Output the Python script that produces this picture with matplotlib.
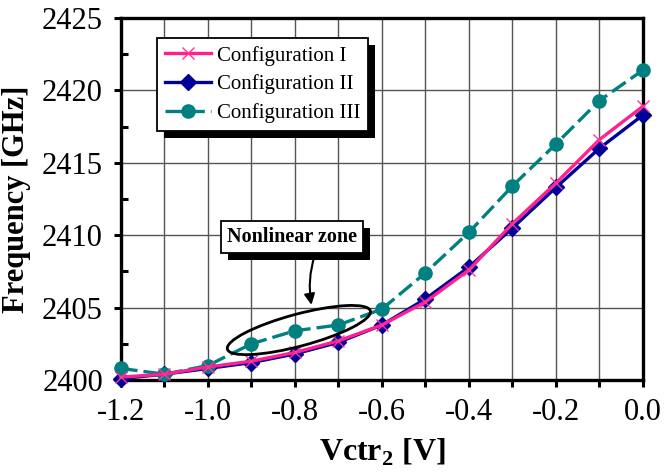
import matplotlib.pyplot as plt
from matplotlib.patches import Ellipse, Rectangle
from matplotlib.transforms import ScaledTranslation, IdentityTransform
from matplotlib.ticker import MultipleLocator

vctr = [-1.2, -1.1, -1.0, -0.9, -0.8, -0.7, -0.6, -0.5, -0.4, -0.3, -0.2, -0.1, 0.0]
freq_conf1 = [2400.2, 2400.4, 2400.9, 2401.3, 2401.9, 2402.7, 2403.8, 2405.4, 2407.6, 2410.8, 2413.6, 2416.6, 2418.9]
freq_conf2 = [2400.1, 2400.4, 2400.8, 2401.2, 2401.8, 2402.6, 2403.8, 2405.6, 2407.8, 2410.5, 2413.3, 2416.0, 2418.3]
freq_conf3 = [2400.8, 2400.4, 2401.0, 2402.5, 2403.4, 2403.8, 2404.9, 2407.4, 2410.2, 2413.4, 2416.3, 2419.3, 2421.4]
labels = ['Configuration I', 'Configuration II', 'Configuration III']

plt.rcParams['font.family'] = ['Liberation Serif', 'DejaVu Serif']
plt.rcParams['mathtext.fontset'] = 'custom'
plt.rcParams['mathtext.rm'] = 'Liberation Serif'
plt.rcParams['mathtext.bf'] = 'Liberation Serif:bold'

fig = plt.figure(figsize=(6.64, 4.75), dpi=100)
ax = fig.add_axes([0.1822, 0.2, 0.7861, 0.7621])

l2, = ax.plot(vctr, freq_conf2, color='#000099', lw=2.4, marker='D', ms=8.5,
              label=labels[1], zorder=3, clip_on=False)
l3, = ax.plot(vctr, freq_conf3, color='#008080', lw=2.4, ls=(0, (5, 1.8)), marker='o', ms=9.5,
              label=labels[2], zorder=3, clip_on=False)
l1, = ax.plot(vctr, freq_conf1, color='#FF1F8E', lw=2.4, marker='x', ms=8, mew=1.0,
              mec='#FF3399', label=labels[0], zorder=4, clip_on=False)

ax.set_xlim(-1.2, 0.0)
ax.set_ylim(2400, 2425)
ax.xaxis.set_minor_locator(MultipleLocator(0.1))
ax.yaxis.set_major_locator(MultipleLocator(5))
ax.yaxis.set_minor_locator(MultipleLocator(2.5))
ax.set_xticks([-1.2, -1.0, -0.8, -0.6, -0.4, -0.2, 0.0])
ax.set_xticklabels(['-1.2', '-1.0', '-0.8', '-0.6', '-0.4', '-0.2', '0.0'])

ax.grid(True, which='major', color='#555555', lw=1.0)
ax.grid(True, which='minor', axis='x', color='#555555', lw=1.0)
ax.set_axisbelow(True)

for s in ax.spines.values():
    s.set_linewidth(2.4)
ax.tick_params(which='major', direction='out', length=5, width=2.2, labelsize=22, pad=8)
ax.tick_params(axis='x', which='minor', direction='out', length=5, width=2.2)
ax.tick_params(axis='y', which='minor', direction='in', length=5, width=2.2)

ax.set_xlabel(r'Vctr$_{\mathbf{2}}$ [V]', fontsize=23, fontweight='bold', labelpad=7)
ax.set_ylabel('Frequency [GHz]', fontsize=22, fontweight='bold', labelpad=8)

leg = ax.legend(handles=[l1, l2, l3], loc='upper left', bbox_to_anchor=(0.069, 0.945),
                borderaxespad=0, fontsize=15, fancybox=False, framealpha=1,
                edgecolor='black', handlelength=2.2, handletextpad=0.3,
                labelspacing=0.42, borderpad=0.38)
leg.get_frame().set_linewidth(1.3)
leg.set_zorder(6)

# nonlinear zone marking
ell = Ellipse((0, 0), 148, 32, angle=15, fill=False, ec='black', lw=2.0,
              transform=ScaledTranslation(-0.791, 2403.45, ax.transData), zorder=5)
ax.add_patch(ell)
ann = ax.annotate('Nonlinear zone', xy=(-0.761, 2405.0), xytext=(-0.807, 2409.9),
                  fontsize=14.5, fontweight='bold', ha='center', va='center',
                  bbox=dict(boxstyle='square,pad=0.3', fc='white', ec='black', lw=1.3),
                  arrowprops=dict(arrowstyle='-|>', color='black', lw=1.5, mutation_scale=16,
                                  connectionstyle='arc3,rad=0.15', relpos=(0.7, 0.0)),
                  zorder=6)

# black drop shadows behind the boxes
fig.canvas.draw()
for bb in [leg.get_frame().get_window_extent(), ann.get_bbox_patch().get_window_extent()]:
    ax.add_patch(Rectangle((bb.x0 + 7, bb.y0 - 7), bb.width, bb.height, fc='black', ec='none',
                           transform=IdentityTransform(), zorder=5.5, clip_on=False))

fig.savefig('out.png', dpi=100)
